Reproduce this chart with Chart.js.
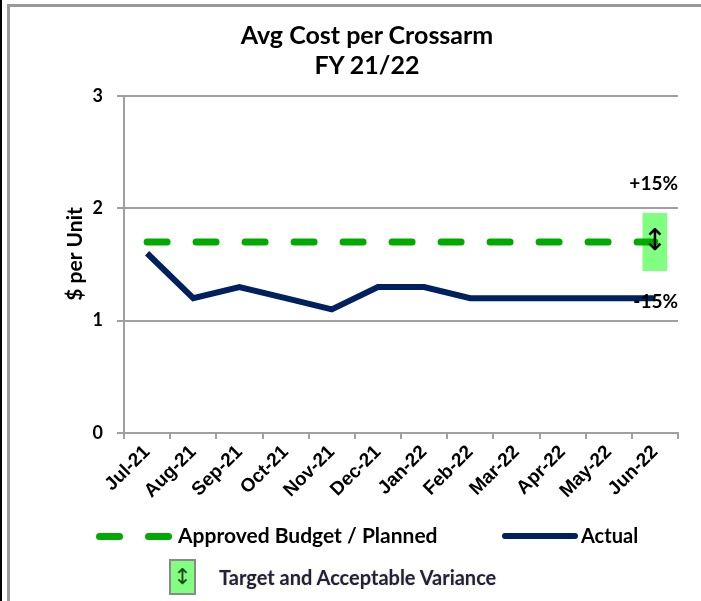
<!DOCTYPE html>
<html>
<head>
<meta charset="utf-8">
<script src="https://cdn.jsdelivr.net/npm/chart.js@4"></script>
<style>
    body { margin: 0; background: #fff; }
    #wrap { position: relative; width: 701px; height: 601px; overflow: hidden; font-family: Lato, sans-serif; }
    #edge { position: absolute; left: 0; top: 0; width: 2px; height: 601px; background: #000; }
    #frame { position: absolute; left: 7px; top: 4px; width: 700px; height: 600px; border-top: 3px solid #999; border-left: 3px solid #999; }
    #myChart { position: absolute; left: 0; top: 0; }
    .title { position: absolute; left: 0; width: 734px; text-align: center; font-weight: bold; font-size: 25px; line-height: 30px; color: #000; }
    .lg { position: absolute; font-weight: bold; white-space: nowrap; }
</style>
</head>
<body>
<div id="wrap">
    <div id="edge"></div>
    <div id="frame"></div>
    <canvas id="myChart" width="701" height="601"></canvas>
    <div class="title" style="top:19px">Avg Cost per Crossarm</div>
    <div class="title" style="top:49px">FY 21/22</div>

    <div class="lg" style="left:96px; top:533px; width:27px; height:7px; border-radius:4px; background:#00aa00"></div>
    <div class="lg" style="left:145px; top:533px; width:27px; height:7px; border-radius:4px; background:#00aa00"></div>
    <div class="lg" style="left:178px; top:522px; font-size:21px; line-height:26px; color:#000">Approved Budget / Planned</div>
    <div class="lg" style="left:502px; top:533px; width:76px; height:6px; border-radius:3px; background:#002060"></div>
    <div class="lg" style="left:581px; top:522px; font-size:20px; line-height:26px; color:#000">Actual</div>

    <div class="lg" style="left:169px; top:559px; width:27px; height:36px; box-sizing:border-box; border:2px solid #8a8a8a; background:#80ff80; text-align:center; font-family:'DejaVu Sans'; font-weight:normal; font-size:22px; line-height:32px; color:#1d4a1d">&#8597;</div>
    <div class="lg" style="left:219px; top:565px; font-size:20px; line-height:24px; color:#1b2340; text-shadow:0 0 2px #e8c8a0">Target and Acceptable Variance</div>
</div>
<script>
const months = ['Jul-21', 'Aug-21', 'Sep-21', 'Oct-21', 'Nov-21', 'Dec-21', 'Jan-22', 'Feb-22', 'Mar-22', 'Apr-22', 'May-22', 'Jun-22']
const actual = [1.6, 1.2, 1.3, 1.2, 1.1, 1.3, 1.3, 1.2, 1.2, 1.2, 1.2, 1.2]
const budget = [1.7, 1.7, 1.7, 1.7, 1.7, 1.7, 1.7, 1.7, 1.7, 1.7, 1.7, 1.7]
// band around the plan, shown on the last month only
const varianceRange = [null, null, null, null, null, null, null, null, null, null, null, [1.445, 1.955]]
const varianceLabels = ['+15%', '-15%']
const yTicks = [0, 1, 2, 3]

const gridGray = '#a0a0a0'

// arrow in the band and the +/- labels above and below it
const bandLabels = {
    id: 'bandLabels',
    afterDatasetsDraw(chart) {
        const ctx = chart.ctx
        const meta = chart.getDatasetMeta(2)
        const bar = meta.data[meta.data.length - 1]
        if (!bar) return
        const area = chart.chartArea
        const top = Math.min(bar.y, bar.base)
        const bottom = Math.max(bar.y, bar.base)
        ctx.save()
        ctx.fillStyle = '#000'
        ctx.font = '30px "DejaVu Sans"'
        ctx.textAlign = 'center'
        ctx.textBaseline = 'middle'
        ctx.fillText('\u2195', bar.x, (top + bottom) / 2)
        ctx.font = 'bold 19px Lato'
        ctx.textAlign = 'right'
        ctx.fillText(varianceLabels[0], area.right, top - 30)
        ctx.fillText(varianceLabels[1], area.right, bottom + 31)
        ctx.restore()
    }
}

function drawChart() {
    const context = document.getElementById('myChart').getContext('2d')
    Chart.defaults.font.family = 'Lato'
    Chart.defaults.color = '#000'

    new Chart(context, {
        data: {
            labels: months,
            datasets: [
                {
                    type: 'line',
                    label: 'Approved Budget / Planned',
                    data: budget,
                    borderColor: '#00aa00',
                    borderWidth: 7,
                    borderDash: [20, 29],
                    borderCapStyle: 'round',
                    pointRadius: 0,
                    fill: false,
                    order: 1
                },
                {
                    type: 'line',
                    label: 'Actual',
                    data: actual,
                    borderColor: '#002060',
                    borderWidth: 6,
                    borderJoinStyle: 'miter',
                    pointRadius: 0,
                    tension: 0,
                    fill: false,
                    order: 2
                },
                {
                    type: 'bar',
                    label: 'Target and Acceptable Variance',
                    data: varianceRange,
                    backgroundColor: '#80ff80',
                    barThickness: 24,
                    order: 3
                }
            ]
        },
        options: {
            responsive: false,
            animation: false,
            layout: { padding: { left: 0, top: 96, right: 23, bottom: 0 } },
            plugins: {
                legend: { display: false },
                tooltip: { enabled: false }
            },
            scales: {
                x: {
                    type: 'category',
                    offset: true,
                    grid: { drawOnChartArea: false, color: gridGray, lineWidth: 2, tickLength: 6, offset: true },
                    border: { color: gridGray, width: 2 },
                    ticks: {
                        minRotation: 45,
                        maxRotation: 45,
                        padding: 2,
                        font: { family: '"Liberation Sans"', size: 19, weight: 'bold' }
                    },
                    afterFit(scale) { scale.height = 168 }
                },
                y: {
                    min: 0,
                    max: 3,
                    afterBuildTicks(scale) { scale.ticks = yTicks.map(v => ({ value: v })) },
                    grid: { color: gridGray, lineWidth: 2, tickLength: 7 },
                    border: { color: gridGray, width: 2 },
                    ticks: { padding: 14, font: { size: 18, weight: 'bold' } },
                    title: {
                        display: true,
                        // leading en spaces lift the title a little above the axis middle
                        text: '\u2002\u2002$ per Unit',
                        padding: { top: 63, bottom: 0 },
                        font: { size: 21, weight: 'bold' }
                    },
                    afterFit(scale) { scale.width = 124 }
                }
            }
        },
        plugins: [bandLabels]
    })
}

drawChart()
</script>
</body>
</html>
